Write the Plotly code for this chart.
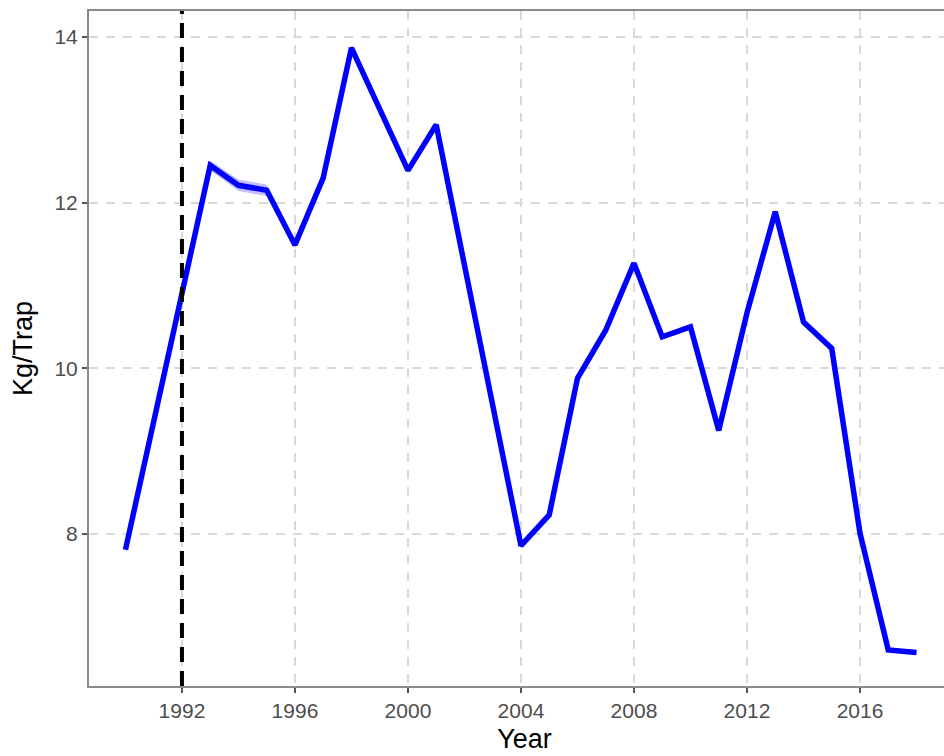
import plotly.graph_objects as go

years = list(range(1990, 2019))
kg_trap = [7.81, 9.35, 10.94, 12.45, 12.21, 12.15, 11.49, 12.30, 13.87, 13.12,
           12.39, 12.94, 11.25, 9.56, 7.86, 8.23, 9.88, 10.46, 11.27, 10.38,
           10.50, 9.25, 10.67, 11.89, 10.56, 10.24, 8.01, 6.60, 6.57]
band_half = [0.04, 0.03, 0.03, 0.06, 0.07, 0.07, 0.04, 0.03, 0.03, 0.03,
             0.03, 0.03, 0.03, 0.03, 0.03, 0.03, 0.03, 0.03, 0.03, 0.03,
             0.03, 0.03, 0.03, 0.03, 0.04, 0.04, 0.03, 0.03, 0.03]
x_ticks = [1992, 1996, 2000, 2004, 2008, 2012, 2016]
y_ticks = [8, 10, 12, 14]
ref_year = 1992

upper = [v + h for v, h in zip(kg_trap, band_half)]
lower = [v - h for v, h in zip(kg_trap, band_half)]

fig = go.Figure()
fig.add_trace(go.Scatter(x=years, y=upper, mode="lines", line=dict(width=0),
                         hoverinfo="skip", showlegend=False))
fig.add_trace(go.Scatter(x=years, y=lower, mode="lines", line=dict(width=0),
                         fill="tonexty", fillcolor="rgba(130,110,255,0.45)",
                         hoverinfo="skip", showlegend=False))
fig.add_trace(go.Scatter(x=years, y=kg_trap, mode="lines",
                         line=dict(color="#0000ff", width=5.5),
                         showlegend=False))

fig.add_vline(x=ref_year, line=dict(color="black", width=4, dash="15px,9px"))

font_family = "Liberation Sans, Arial, sans-serif"
axis_common = dict(
    showgrid=True, gridcolor="#d9d9d9", gridwidth=1.5, griddash="9px,8px",
    zeroline=False, showline=True, linecolor="#8a8a8a", linewidth=2,
    ticks="outside", ticklen=5, tickwidth=1.5, tickcolor="#555555",
    tickfont=dict(family=font_family, size=21, color="#4d4d4d"),
    automargin=False,
)

fig.update_xaxes(**axis_common, range=[1988.71, 2019.54], tickvals=x_ticks,
                 mirror=True,
                 title=dict(text="Year", standoff=8,
                            font=dict(family=font_family, size=27, color="black")))
fig.update_yaxes(**axis_common, range=[6.165, 14.314], tickvals=y_ticks,
                 title=dict(text="Kg/Trap", standoff=14,
                            font=dict(family=font_family, size=27, color="black")))

fig.update_layout(
    width=960, height=770,
    margin=dict(l=89, r=0, t=11, b=84),
    plot_bgcolor="white", paper_bgcolor="white",
)

fig.write_html(
    "out.html",
    config={"displayModeBar": False},
    post_script="document.body.style.margin='0';document.body.style.overflow='hidden';",
)
